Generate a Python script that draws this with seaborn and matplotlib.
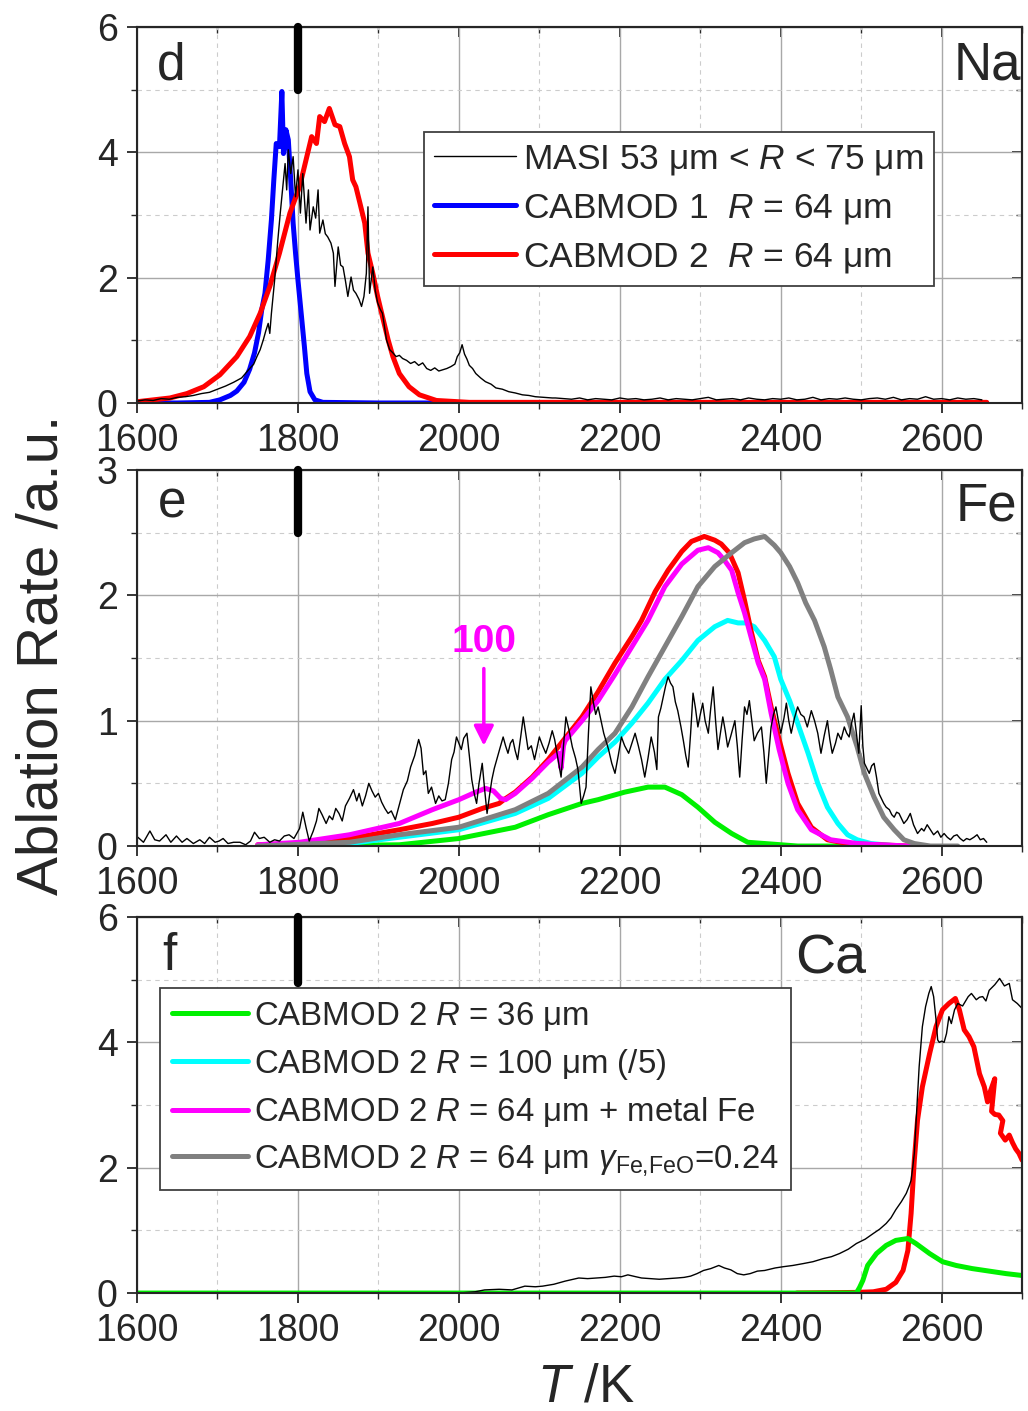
import numpy as np
import pandas as pd
import matplotlib
matplotlib.use("Agg")
import matplotlib.pyplot as plt
import seaborn as sns
from matplotlib.lines import Line2D
from matplotlib.ticker import MultipleLocator

# ---------------------------------------------------------------- data
# Panel d : Na
NA_MASI_T = [1600, 1610, 1620, 1630, 1640, 1650, 1660, 1670, 1680, 1690, 1700, 1710, 1720,
             1730, 1740, 1745, 1749, 1753, 1757, 1760, 1763, 1765, 1767, 1771, 1775, 1778,
             1782, 1784, 1786, 1788, 1791, 1794, 1797, 1800, 1803, 1806, 1810, 1813, 1815,
             1819, 1822, 1825, 1827, 1831, 1834, 1837, 1841, 1844, 1846, 1850, 1853, 1856,
             1859, 1862, 1866, 1869, 1872, 1876, 1879, 1882, 1885, 1887, 1889, 1893, 1896,
             1899, 1902, 1905, 1910, 1914, 1918, 1922, 1926, 1930, 1935, 1940, 1945, 1950,
             1955, 1960, 1965, 1970, 1975, 1980, 1985, 1990, 1995, 1998, 2001, 2004, 2007,
             2010, 2013, 2017, 2021, 2027, 2033, 2040, 2046, 2054, 2062, 2070, 2079, 2087,
             2095, 2105, 2116,
             2120, 2130, 2140, 2150, 2160, 2170, 2180, 2190, 2200, 2210, 2220, 2230, 2240,
             2250, 2260, 2270, 2280, 2290, 2300, 2310, 2320, 2330, 2340, 2350, 2360, 2370,
             2380, 2390, 2400, 2410, 2420, 2430, 2440, 2450, 2460, 2470, 2480, 2490, 2500,
             2510, 2520, 2530, 2540, 2550, 2560, 2570, 2580, 2590, 2600, 2610, 2620, 2630,
             2640, 2650]
NA_MASI = [0.03, 0.05, 0.04, 0.07, 0.06, 0.09, 0.10, 0.12, 0.15, 0.17, 0.22, 0.27, 0.33,
           0.40, 0.55, 0.62, 0.74, 0.85, 1.01, 1.15, 1.27, 1.11, 1.43, 1.96, 2.60, 3.03,
           3.56, 3.82, 3.40, 4.04, 3.66, 3.93, 3.29, 3.72, 3.03, 3.66, 2.87, 3.40, 2.76,
           3.13, 2.95, 3.40, 2.71, 2.92, 2.70, 2.65, 2.55, 2.39, 1.86, 2.49, 2.20, 2.17,
           1.95, 1.70, 2.01, 1.80, 1.75, 1.65, 1.54, 1.70, 2.07, 3.13, 1.75, 2.17, 1.80,
           1.60, 1.50, 1.43, 1.01, 0.85, 0.80, 0.74, 0.76, 0.71, 0.68, 0.63, 0.66, 0.60,
           0.64, 0.55, 0.52, 0.56, 0.51, 0.53, 0.55, 0.58, 0.62, 0.74, 0.80, 0.93, 0.78,
           0.70, 0.60, 0.55, 0.47, 0.40, 0.34, 0.30, 0.24, 0.22, 0.18, 0.16, 0.13, 0.12,
           0.10, 0.09, 0.08,
           0.08, 0.07, 0.06, 0.08, 0.05, 0.07, 0.06, 0.05, 0.08, 0.06, 0.07, 0.05, 0.06,
           0.08, 0.05, 0.07, 0.06, 0.05, 0.07, 0.09, 0.05, 0.06, 0.07, 0.05, 0.08, 0.06,
           0.05, 0.07, 0.06, 0.08, 0.05, 0.06, 0.09, 0.05, 0.07, 0.06, 0.08, 0.06, 0.05,
           0.07, 0.08, 0.06, 0.09, 0.05, 0.07, 0.06, 0.10, 0.06, 0.07, 0.05, 0.08, 0.06,
           0.07, 0.05]

NA_CAB1_T = [1600, 1650, 1690, 1703, 1716, 1724, 1733, 1740, 1746, 1751, 1755, 1759, 1763,
             1767, 1770, 1773, 1777, 1780, 1782, 1785, 1788, 1791, 1794, 1797, 1800, 1804,
             1808, 1811, 1815, 1821, 1831, 1900, 2200, 2656]
NA_CAB1 = [0.0, 0.0, 0.01, 0.05, 0.12, 0.19, 0.33, 0.54, 0.80, 1.12, 1.49, 1.75, 2.28,
           2.92, 3.56, 4.14, 4.09, 4.97, 3.98, 4.36, 4.20, 3.56, 2.87, 2.39, 1.96, 1.43,
           0.90, 0.47, 0.18, 0.05, 0.01, 0.0, 0.0, 0.0]

NA_CAB2_T = [1600, 1641, 1662, 1683, 1703, 1724, 1740, 1753, 1765, 1777, 1790, 1802, 1811,
             1817, 1823, 1827, 1833, 1839, 1846, 1852, 1858, 1864, 1868, 1872, 1877, 1883,
             1887, 1893, 1899, 1905, 1912, 1918, 1926, 1938, 1951, 1972, 2013, 2100, 2656]
NA_CAB2 = [0.02, 0.08, 0.15, 0.26, 0.45, 0.74, 1.06, 1.43, 1.86, 2.39, 3.03, 3.45, 3.93,
           4.25, 4.14, 4.57, 4.49, 4.70, 4.44, 4.41, 4.14, 3.93, 3.56, 3.45, 3.19, 2.87,
           2.39, 2.07, 1.70, 1.38, 1.01, 0.74, 0.47, 0.26, 0.13, 0.04, 0.01, 0.01, 0.01]

# Panel e : Fe
FE_MASI_T = [1601, 1608, 1616, 1622, 1628, 1636, 1642, 1649, 1656, 1662, 1670, 1678, 1684,
             1690, 1697, 1702, 1707, 1713, 1720, 1728, 1735, 1741, 1746, 1752, 1758, 1765,
             1771, 1777, 1783, 1789, 1795, 1802, 1806, 1810, 1814, 1819, 1823, 1826, 1830,
             1835, 1839, 1843, 1847, 1851, 1855, 1859, 1864, 1869, 1873, 1876, 1880, 1884,
             1888, 1892, 1896, 1900, 1904, 1908, 1912, 1916, 1921, 1926, 1931, 1936, 1940,
             1945, 1950, 1953, 1956, 1959, 1962, 1966, 1971, 1975, 1979, 1983, 1987, 1991,
             1994, 1997, 2000, 2003, 2006, 2010, 2013, 2016, 2019, 2022, 2025, 2029, 2032,
             2035, 2038, 2041, 2044, 2047, 2051, 2055, 2058, 2061, 2064, 2067, 2070, 2073,
             2077, 2080, 2083, 2086, 2090, 2094, 2097, 2100, 2104, 2108, 2112, 2116, 2119,
             2123, 2127, 2130, 2133, 2137, 2141, 2145, 2148, 2152, 2155, 2158, 2161, 2164,
             2167, 2170, 2173, 2180, 2186, 2190, 2194, 2198, 2202, 2206, 2211, 2215, 2219,
             2223, 2227, 2231, 2235, 2239, 2243, 2246, 2248, 2251, 2254, 2257, 2260, 2263,
             2266, 2269, 2272, 2276, 2279, 2282, 2285, 2288, 2291, 2294, 2297, 2300, 2303,
             2306, 2310, 2313, 2316, 2319, 2322, 2325, 2328, 2331, 2334, 2338, 2343, 2346,
             2349, 2352, 2355, 2358, 2361, 2364, 2367, 2371, 2376, 2379, 2382, 2385, 2388,
             2391, 2394, 2397, 2400, 2404, 2407, 2410, 2413, 2417, 2421, 2425, 2429, 2433,
             2438, 2442, 2446, 2450, 2454, 2458, 2461, 2464, 2468, 2471, 2475, 2479, 2482,
             2485, 2488, 2491, 2494, 2497, 2500, 2502, 2504, 2507, 2510, 2513, 2516, 2519,
             2522, 2525, 2528, 2531, 2535, 2538, 2541, 2544, 2547, 2550, 2553, 2557, 2561,
             2565, 2570, 2575, 2578, 2582, 2586, 2590, 2595, 2599, 2603, 2607, 2611, 2615,
             2619, 2623, 2627, 2631, 2635, 2640, 2644, 2648, 2652, 2656]
FE_MASI = [0.07, 0.03, 0.12, 0.05, 0.04, 0.09, 0.03, 0.08, 0.03, 0.06, 0.02, 0.05, 0.02,
           0.07, 0.03, 0.04, 0.06, 0.02, 0.03, 0.03, 0.01, 0.04, 0.11, 0.06, 0.07, 0.03,
           0.05, 0.04, 0.08, 0.09, 0.06, 0.14, 0.27, 0.15, 0.04, 0.12, 0.20, 0.30, 0.25,
           0.18, 0.24, 0.21, 0.30, 0.26, 0.20, 0.32, 0.38, 0.45, 0.36, 0.42, 0.32, 0.40,
           0.50, 0.44, 0.39, 0.42, 0.35, 0.30, 0.26, 0.28, 0.21, 0.33, 0.45, 0.52, 0.63,
           0.72, 0.85, 0.78, 0.57, 0.60, 0.42, 0.47, 0.34, 0.40, 0.36, 0.37, 0.50, 0.69,
           0.75, 0.87, 0.82, 0.77, 0.86, 0.90, 0.72, 0.53, 0.42, 0.34, 0.50, 0.66, 0.45,
           0.26, 0.40, 0.53, 0.62, 0.69, 0.78, 0.87, 0.80, 0.74, 0.82, 0.85, 0.76, 0.69,
           0.88, 1.03, 0.90, 0.77, 0.80, 0.69, 0.78, 0.87, 0.80, 0.74, 0.82, 0.92, 0.85,
           0.70, 0.55, 0.80, 1.03, 0.92, 0.79, 0.70, 0.61, 0.34, 0.40, 0.47, 0.90, 1.27,
           1.15, 1.05, 1.11, 0.90, 0.77, 0.66, 0.58, 0.72, 0.87, 0.80, 0.74, 0.82, 0.90,
           0.80, 0.69, 0.55, 0.70, 0.87, 0.75, 0.61, 1.03, 1.10, 1.19, 1.28, 1.35, 1.30,
           1.27, 1.15, 1.08, 0.95, 0.84, 0.72, 0.63, 0.90, 1.22, 1.10, 0.95, 1.05, 1.14,
           1.00, 0.90, 1.10, 1.27, 1.00, 0.77, 0.90, 1.03, 0.92, 0.79, 0.88, 1.00, 0.80,
           0.55, 0.85, 1.11, 1.05, 1.16, 1.00, 0.84, 0.90, 0.95, 0.75, 0.50, 0.72, 0.95,
           1.05, 1.11, 1.00, 0.90, 1.02, 1.14, 1.00, 0.90, 1.02, 1.11, 1.05, 1.03, 0.95,
           1.08, 1.00, 0.90, 0.74, 0.88, 1.00, 0.85, 0.74, 0.82, 0.90, 0.85, 0.95, 0.90,
           0.87, 0.98, 1.06, 0.90, 0.74, 1.12, 0.80, 0.66, 0.62, 0.58, 0.64, 0.66, 0.55,
           0.42, 0.38, 0.34, 0.31, 0.29, 0.25, 0.23, 0.27, 0.26, 0.22, 0.18, 0.21, 0.26,
           0.17, 0.10, 0.14, 0.12, 0.17, 0.13, 0.09, 0.12, 0.07, 0.10, 0.07, 0.05, 0.08,
           0.09, 0.06, 0.04, 0.06, 0.05, 0.07, 0.09, 0.05, 0.06, 0.03]

FE_R36_T = [1750, 1926, 2000, 2070, 2111, 2153, 2173, 2206, 2235, 2256, 2277, 2297, 2318,
            2339, 2359, 2380, 2421, 2500]
FE_R36 = [0.0, 0.01, 0.06, 0.15, 0.25, 0.34, 0.37, 0.43, 0.47, 0.47, 0.41, 0.31, 0.19,
          0.10, 0.03, 0.02, 0.0, 0.0]

FE_R100_T = [1750, 1864, 1926, 2000, 2070, 2111, 2153, 2173, 2194, 2215, 2235, 2256, 2277,
             2297, 2318, 2334, 2347, 2357, 2367, 2380, 2392, 2400, 2411, 2421, 2434, 2446,
             2458, 2471, 2483, 2495, 2512, 2545]
FE_R100 = [0.0, 0.02, 0.07, 0.13, 0.26, 0.38, 0.58, 0.71, 0.83, 0.98, 1.14, 1.33, 1.48,
           1.64, 1.75, 1.80, 1.78, 1.78, 1.75, 1.64, 1.51, 1.33, 1.16, 0.98, 0.74, 0.50,
           0.31, 0.18, 0.09, 0.05, 0.02, 0.0]

FE_R64_T = [1750, 1802, 1864, 1926, 1967, 2000, 2029, 2050, 2056, 2070, 2091, 2111, 2132,
            2153, 2173, 2194, 2215, 2227, 2244, 2260, 2277, 2289, 2305, 2318, 2326, 2336,
            2347, 2355, 2363, 2372, 2380, 2388, 2398, 2409, 2421, 2438, 2458, 2483, 2520,
            2560]
FE_R64 = [0.01, 0.02, 0.06, 0.13, 0.18, 0.23, 0.30, 0.34, 0.37, 0.43, 0.55, 0.69, 0.86,
          1.03, 1.23, 1.46, 1.67, 1.80, 2.03, 2.20, 2.35, 2.43, 2.47, 2.44, 2.41, 2.34,
          2.18, 1.96, 1.72, 1.48, 1.35, 1.11, 0.85, 0.58, 0.34, 0.15, 0.05, 0.02, 0.01, 0.0]

FE_METAL_T = [1750, 1802, 1864, 1926, 1967, 2000, 2021, 2033, 2043, 2052, 2058, 2070, 2091,
              2111, 2124, 2127, 2130, 2132, 2153, 2173, 2194, 2215, 2235, 2256, 2277, 2297,
              2310, 2322, 2330, 2339, 2347, 2355, 2363, 2372, 2380, 2388, 2398, 2409, 2421,
              2438, 2462, 2495, 2524, 2560]
FE_METAL = [0.01, 0.03, 0.09, 0.18, 0.29, 0.37, 0.43, 0.46, 0.44, 0.38, 0.37, 0.42, 0.54,
            0.67, 0.74, 0.62, 0.80, 0.84, 1.00, 1.16, 1.37, 1.59, 1.80, 2.07, 2.25, 2.36,
            2.38, 2.34, 2.28, 2.20, 2.02, 1.86, 1.67, 1.46, 1.33, 1.06, 0.77, 0.50, 0.29,
            0.13, 0.05, 0.02, 0.01, 0.0]

FE_GAMMA_T = [1750, 1864, 1926, 2000, 2070, 2111, 2153, 2173, 2194, 2215, 2235, 2256, 2277,
              2297, 2318, 2339, 2355, 2367, 2380, 2392, 2400, 2411, 2421, 2431, 2442, 2454,
              2462, 2471, 2483, 2495, 2504, 2516, 2528, 2541, 2553, 2566, 2586, 2620]
FE_GAMMA = [0.0, 0.03, 0.09, 0.15, 0.29, 0.42, 0.63, 0.77, 0.90, 1.11, 1.35, 1.59, 1.83,
            2.07, 2.23, 2.34, 2.42, 2.45, 2.47, 2.40, 2.34, 2.23, 2.10, 1.94, 1.80, 1.59,
            1.41, 1.19, 1.03, 0.79, 0.58, 0.39, 0.23, 0.13, 0.05, 0.02, 0.0, 0.0]

# Panel f : Ca
CA_MASI_T = [1600, 2000, 2020, 2032, 2050, 2066, 2082, 2095, 2104, 2118, 2132, 2149, 2160,
             2171, 2182, 2193, 2202, 2210, 2220, 2227, 2238, 2249, 2260, 2271, 2280, 2288,
             2296, 2304, 2313, 2323, 2330, 2338, 2346, 2354, 2362, 2371, 2380, 2393, 2403,
             2415, 2428, 2440, 2453, 2463, 2473, 2484, 2494, 2505, 2515, 2523, 2531, 2537,
             2543, 2550, 2556, 2560, 2562, 2564, 2566, 2569, 2572, 2576, 2580, 2584, 2587,
             2590, 2593, 2595, 2597, 2600, 2603, 2606, 2609, 2612, 2616, 2620, 2626, 2633,
             2637, 2643, 2647, 2651, 2655, 2659, 2666, 2672, 2678, 2684, 2688, 2694, 2700]
CA_MASI = [0.0, 0.0, 0.02, 0.05, 0.06, 0.05, 0.11, 0.10, 0.11, 0.14, 0.19, 0.24, 0.23,
           0.24, 0.25, 0.27, 0.26, 0.29, 0.26, 0.24, 0.23, 0.22, 0.23, 0.24, 0.25, 0.27,
           0.31, 0.36, 0.39, 0.44, 0.40, 0.37, 0.31, 0.29, 0.31, 0.35, 0.36, 0.40, 0.42,
           0.44, 0.47, 0.50, 0.55, 0.58, 0.63, 0.70, 0.79, 0.86, 0.95, 1.02, 1.11, 1.20,
           1.33, 1.46, 1.59, 1.72, 1.80, 2.00, 2.23, 2.92, 3.61, 4.25, 4.57, 4.78, 4.89,
           4.73, 4.36, 4.04, 4.00, 4.02, 4.00, 4.14, 4.41, 4.30, 4.52, 4.62, 4.58, 4.73,
           4.78, 4.68, 4.72, 4.73, 4.66, 4.83, 4.92, 5.02, 4.90, 4.94, 4.68, 4.62, 4.54]

CA_R36_T = [1600, 2494, 2498, 2502, 2508, 2519, 2531, 2543, 2558, 2568, 2585, 2601, 2618,
            2638, 2659, 2680, 2700]
CA_R36 = [0.0, 0.0, 0.09, 0.20, 0.44, 0.63, 0.76, 0.84, 0.87, 0.79, 0.63, 0.50, 0.44, 0.39,
          0.35, 0.31, 0.28]

CA_R64_T = [2420, 2494, 2515, 2531, 2543, 2552, 2558, 2562, 2566, 2570, 2576, 2585,
            2593, 2601, 2609, 2617, 2622, 2628, 2634, 2640, 2647, 2653, 2657, 2660, 2666,
            2662, 2666, 2671, 2676, 2673, 2679, 2684, 2688, 2692, 2696, 2700]
CA_R64 = [0.0, 0.01, 0.02, 0.06, 0.17, 0.36, 0.68, 1.27, 2.12, 2.76, 3.29, 3.82, 4.25,
          4.52, 4.62, 4.70, 4.52, 4.20, 4.09, 3.93, 3.50, 3.29, 3.05, 3.20, 3.42, 2.90, 2.85,
          2.84, 2.75, 2.55, 2.44, 2.52, 2.40, 2.30, 2.23, 2.12]

MELT_T = 1800          # vertical marker temperature
ANNOT_T, ANNOT_TIP, ANNOT_TEXT_Y = 2031, 0.80, 1.63

# ---------------------------------------------------------------- style
sns.set_style("ticks")
plt.rcParams['font.family'] = ['Liberation Sans', 'DejaVu Sans']
plt.rcParams['mathtext.fontset'] = 'custom'
plt.rcParams['mathtext.rm'] = 'Liberation Sans'
plt.rcParams['mathtext.it'] = 'Liberation Sans:italic'
plt.rcParams['mathtext.bf'] = 'Liberation Sans:bold'

BLUE, RED, GREEN = '#0000FF', '#FF0000', '#00F000'
CYAN, MAGENTA, GRAY = '#00FFFF', '#FF00FF', '#808080'
LW_MODEL, LW_MASI = 3.6, 1.0
TICK_FS = 27

fig = plt.figure(figsize=(10.28, 14.11), dpi=100)
L, W, H = 0.1333, 0.861, 0.2665
ax_d = fig.add_axes([L, 0.7144, W, H])
ax_e = fig.add_axes([L, 0.4004, W, H])
ax_f = fig.add_axes([L, 0.0836, W, H])


def draw(ax, t, v, color, lw):
    df = pd.DataFrame({'T': t, 'rate': v})
    sns.lineplot(data=df, x='T', y='rate', ax=ax, color=color, linewidth=lw,
                 sort=False, estimator=None, legend=False)


def style(ax, ymax, ymaj, ymin):
    ax.set_xlim(1600, 2700)
    ax.set_ylim(0, ymax)
    ax.xaxis.set_major_locator(MultipleLocator(200))
    ax.xaxis.set_minor_locator(MultipleLocator(100))
    ax.yaxis.set_major_locator(MultipleLocator(ymaj))
    ax.yaxis.set_minor_locator(MultipleLocator(ymin))
    ax.grid(which='major', color='#A8A8A8', lw=1.0, ls='-')
    ax.grid(which='minor', color='#CCCCCC', lw=0.8, ls=(0, (4, 4)))
    ax.set_axisbelow(True)
    ax.set_xlabel('')
    ax.set_ylabel('')
    ax.tick_params(which='major', direction='out', length=7, width=1.3,
                   labelsize=TICK_FS)
    ax.tick_params(axis='x', which='major', pad=7.5)
    ax.tick_params(axis='y', which='major', pad=7)
    ax.tick_params(which='minor', direction='out', length=4, width=1.0)
    for s in ax.spines.values():
        s.set_linewidth(1.5)
        s.set_visible(True)
    sec_r = ax.secondary_yaxis('right')
    sec_r.yaxis.set_major_locator(MultipleLocator(ymaj))
    sec_r.yaxis.set_minor_locator(MultipleLocator(ymin))
    sec_r.tick_params(which='major', direction='in', length=7, width=1.3, labelright=False)
    sec_r.tick_params(which='minor', direction='in', length=4, width=1.0)
    sec_r.spines['right'].set_linewidth(1.5)
    sec_t = ax.secondary_xaxis('top')
    sec_t.xaxis.set_major_locator(MultipleLocator(200))
    sec_t.xaxis.set_minor_locator(MultipleLocator(100))
    sec_t.tick_params(which='major', direction='in', length=7, width=1.3, labeltop=False)
    sec_t.tick_params(which='minor', direction='in', length=4, width=1.0)
    sec_t.spines['top'].set_linewidth(1.5)


# ---- panel d (Na)
draw(ax_d, NA_CAB1_T, NA_CAB1, BLUE, LW_MODEL)
draw(ax_d, NA_CAB2_T, NA_CAB2, RED, LW_MODEL)
draw(ax_d, NA_MASI_T, NA_MASI, 'black', LW_MASI)
style(ax_d, 6, 2, 1)
ax_d.plot([MELT_T, MELT_T], [5.0, 6.0], color='black', lw=6, solid_capstyle='round',
          clip_on=False, zorder=5)
ax_d.text(0.0226, 0.859, 'd', transform=ax_d.transAxes, fontsize=37, ha='left', va='baseline')
ax_d.text(0.999, 0.859, 'Na', transform=ax_d.transAxes, fontsize=38, ha='right', va='baseline')
h_d = [Line2D([], [], color='black', lw=LW_MASI),
       Line2D([], [], color=BLUE, lw=LW_MODEL),
       Line2D([], [], color=RED, lw=LW_MODEL)]
lab_d = [r'MASI 53 μm < $R$ < 75 μm', r'CABMOD 1  $R$ = 64 μm', r'CABMOD 2  $R$ = 64 μm']
leg = ax_d.legend(h_d, lab_d, loc='upper left', bbox_to_anchor=(0.324, 0.721),
                  fontsize=25.5, frameon=True, fancybox=False, edgecolor='#404040',
                  framealpha=1, borderpad=0.3, labelspacing=0.41, handlelength=2.3,
                  handletextpad=0.2, borderaxespad=0)
leg.get_frame().set_linewidth(1.3)

# ---- panel e (Fe)
draw(ax_e, FE_R36_T, FE_R36, GREEN, LW_MODEL)
draw(ax_e, FE_R100_T, FE_R100, CYAN, LW_MODEL)
draw(ax_e, FE_R64_T, FE_R64, RED, LW_MODEL)
draw(ax_e, FE_METAL_T, FE_METAL, MAGENTA, LW_MODEL)
draw(ax_e, FE_GAMMA_T, FE_GAMMA, GRAY, LW_MODEL)
draw(ax_e, FE_MASI_T, FE_MASI, 'black', LW_MASI)
style(ax_e, 3, 1, 0.5)
ax_e.plot([MELT_T, MELT_T], [2.5, 3.0], color='black', lw=6, solid_capstyle='round',
          clip_on=False, zorder=5)
ax_e.text(0.024, 0.875, 'e', transform=ax_e.transAxes, fontsize=37, ha='left', va='baseline')
ax_e.text(0.995, 0.867, 'Fe', transform=ax_e.transAxes, fontsize=38, ha='right', va='baseline')
ax_e.annotate('100', xy=(ANNOT_T, ANNOT_TIP), xytext=(ANNOT_T, ANNOT_TEXT_Y),
              color=MAGENTA, fontsize=28, fontweight='bold', ha='center', va='center',
              arrowprops=dict(arrowstyle='-|>', color=MAGENTA, lw=2.5,
                              mutation_scale=30, shrinkA=4, shrinkB=0))

# ---- panel f (Ca)
draw(ax_f, CA_R64_T, CA_R64, RED, LW_MODEL)
draw(ax_f, CA_R36_T, CA_R36, GREEN, LW_MODEL)
draw(ax_f, CA_MASI_T, CA_MASI, 'black', LW_MASI)
style(ax_f, 6, 2, 1)
ax_f.plot([MELT_T, MELT_T], [4.95, 6.0], color='black', lw=6, solid_capstyle='round',
          clip_on=False, zorder=5)
ax_f.text(0.029, 0.859, 'f', transform=ax_f.transAxes, fontsize=37, ha='left', va='baseline')
ax_f.text(0.744, 0.851, 'Ca', transform=ax_f.transAxes, fontsize=40, ha='left', va='baseline')
h_f = [Line2D([], [], color=GREEN, lw=LW_MODEL),
       Line2D([], [], color=CYAN, lw=LW_MODEL),
       Line2D([], [], color=MAGENTA, lw=LW_MODEL),
       Line2D([], [], color=GRAY, lw=LW_MODEL)]
lab_f = [r'CABMOD 2 $R$ = 36 μm',
         r'CABMOD 2 $R$ = 100 μm (/5)',
         r'CABMOD 2 $R$ = 64 μm + metal Fe',
         r'CABMOD 2 $R$ = 64 μm $\gamma_{\mathrm{Fe{,}FeO}}$=0.24']
leg = ax_f.legend(h_f, lab_f, loc='upper left', bbox_to_anchor=(0.026, 0.811),
                  fontsize=23.8, frameon=True, fancybox=False, edgecolor='#404040',
                  framealpha=1, borderpad=0.35, labelspacing=0.42, handlelength=2.3,
                  handletextpad=0.2, borderaxespad=0)
leg.get_frame().set_linewidth(1.3)

# ---- shared axis labels
fig.text(0.041, 0.536, 'Ablation Rate /a.u.', rotation=90, fontsize=42,
         ha='center', va='center')
fig.text(0.570, 0.017, r'$T$ /K', fontsize=38, ha='center', va='center')

fig.savefig('out.png', dpi=100)
